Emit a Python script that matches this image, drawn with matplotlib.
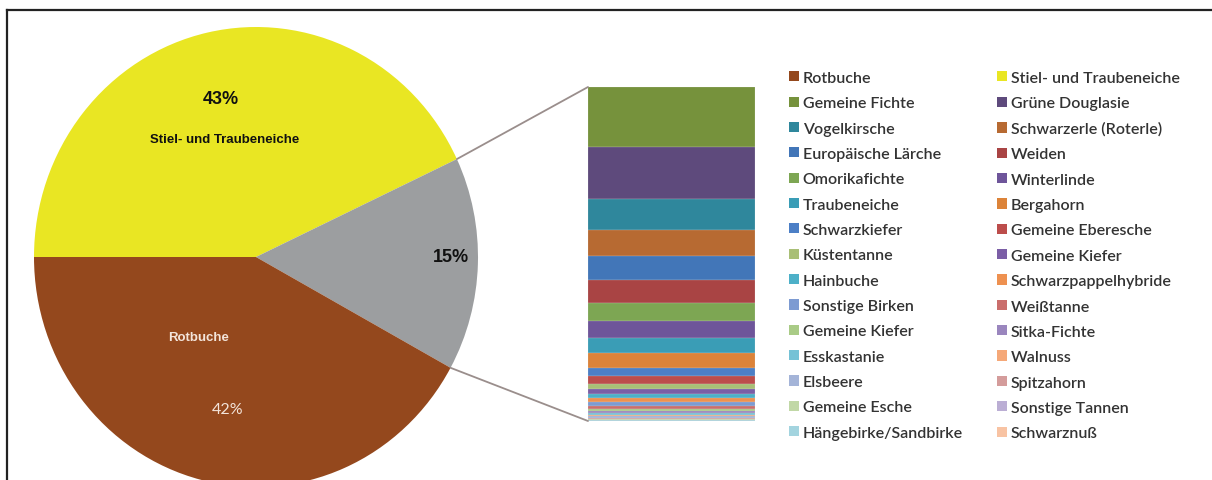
import matplotlib
matplotlib.use("Agg")
import matplotlib.pyplot as plt
from matplotlib.patches import Patch, ConnectionPatch
from matplotlib.lines import Line2D
import numpy as np

# main pie: share of total area in percent
pieLabels = ["Stiel- und Traubeneiche", "Sonstige", "Rotbuche"]
pieValues = [43, 15, 42]
pieColors = ["#E9E623", "#9C9EA0", "#94481D"]

# the 15% "Sonstige" split up, top to bottom of the bar
barNames = ["Gemeine Fichte", "Grüne Douglasie", "Vogelkirsche", "Schwarzerle (Roterle)",
            "Europäische Lärche", "Weiden", "Omorikafichte", "Winterlinde",
            "Traubeneiche", "Bergahorn", "Schwarzkiefer", "Gemeine Eberesche",
            "Küstentanne", "Gemeine Kiefer", "Hainbuche", "Schwarzpappelhybride",
            "Sonstige Birken", "Weißtanne", "Gemeine Kiefer", "Sitka-Fichte",
            "Esskastanie", "Walnuss", "Elsbeere", "Spitzahorn",
            "Gemeine Esche", "Sonstige Tannen", "Hängebirke/Sandbirke", "Schwarznuß"]
barValues = [2.69, 2.34, 1.39, 1.17, 1.08, 1.03, 0.81, 0.76, 0.67, 0.67, 0.36, 0.36,
             0.22, 0.22, 0.18, 0.18, 0.16, 0.13, 0.11, 0.09, 0.08, 0.07, 0.06, 0.05,
             0.04, 0.03, 0.02, 0.01]
barColors = ["#76923C", "#5E4A7C", "#2F879C", "#B76A32", "#4276B8", "#A94444",
             "#7DA653", "#6E559A", "#3A9DB6", "#DC8339", "#4C7FC6", "#BC4D4B",
             "#A9BF76", "#7B5EA6", "#4DB0C8", "#EE9150", "#7D9BD2", "#CA6E6C",
             "#A9CB86", "#9A86BE", "#75C2D6", "#F5A878", "#A4B4D8", "#D49C9B",
             "#C1D8A6", "#BBAED4", "#A3D4DF", "#F8C3A3"]

W, H = 1212, 481
fig = plt.figure(figsize=(W / 100, H / 100), dpi=100)

# frame lines (top and left only)
fig.add_artist(Line2D([7 / W, 1], [1 - 11 / H, 1 - 11 / H], color="#222222", lw=1.6))
fig.add_artist(Line2D([7 / W, 7 / W], [0, 1 - 11 / H], color="#222222", lw=1.6))

# pie axes, slightly taller than wide like the original
cx, cy, rx, ry = 256, 258, 222, 230
axPie = fig.add_axes([(cx - rx) / W, (H - cy - ry) / H, 2 * rx / W, 2 * ry / H])
wedges, _ = axPie.pie(pieValues, colors=pieColors, startangle=180, counterclock=False,
                      wedgeprops=dict(linewidth=0))
axPie.set_aspect("auto")
axPie.set_xlim(-1, 1)
axPie.set_ylim(-1, 1)
axPie.axis("off")

axPie.text(-0.16, 0.687, "43%", ha="center", va="center", fontsize=13,
           fontweight="bold", family="Liberation Sans", color="#111111")
axPie.text(-0.14, 0.513, "Stiel- und Traubeneiche", ha="center", va="center", fontsize=9.5,
           fontweight="bold", family="Liberation Sans", color="#111111")
axPie.text(0.878, 0.004, "15%", ha="center", va="center", fontsize=13,
           fontweight="bold", family="Liberation Sans", color="#111111")
axPie.text(-0.26, -0.348, "Rotbuche", ha="center", va="center", fontsize=9.5,
           fontweight="bold", family="Liberation Sans", color="#F3E4DA")
axPie.text(-0.126, -0.661, "42%", ha="center", va="center", fontsize=11.5,
           family="Lato", color="#F3E4DA")

# stacked bar
axBar = fig.add_axes([588 / W, (H - 422) / H, 167 / W, 334 / H])
total = sum(barValues)
top = total
for v, c in zip(barValues, barColors):
    axBar.bar(0, v, bottom=top - v, width=1, color=c, edgecolor="#D8D8D8", linewidth=0.15)
    top -= v
axBar.set_xlim(-0.5, 0.5)
axBar.set_ylim(0, total)
axBar.axis("off")

# connector lines from the grey wedge to the bar (theta2 is the upper edge)
grey = wedges[1]
for ang, yb in [(grey.theta2, total), (grey.theta1, 0)]:
    a = np.deg2rad(ang)
    con = ConnectionPatch(xyA=(np.cos(a), np.sin(a)), coordsA=axPie.transData,
                          xyB=(-0.5, yb), coordsB=axBar.transData,
                          color="#9A8E8C", lw=1.3)
    fig.add_artist(con)

# legend, Excel style: filled row by row in two columns
legNames = ["Rotbuche", "Stiel- und Traubeneiche"] + barNames
legColors = [pieColors[2], pieColors[0]] + barColors
handles = [Patch(facecolor=c, edgecolor="none") for c in legColors]

for col, x0 in [(0, 789), (1, 997)]:
    idx = range(col, len(legNames), 2)
    fig.legend([handles[i] for i in idx], [legNames[i] for i in idx],
               loc="upper left", bbox_to_anchor=(x0 / W, 1 - 72 / H),
               frameon=False, prop={"family": "Lato", "size": 11.5, "weight": "semibold"},
               labelcolor="#333333", handlelength=0.6, handleheight=0.6,
               handletextpad=0.25, labelspacing=0.71, borderpad=0, borderaxespad=0)

fig.savefig("out.png", dpi=100, facecolor="white")
